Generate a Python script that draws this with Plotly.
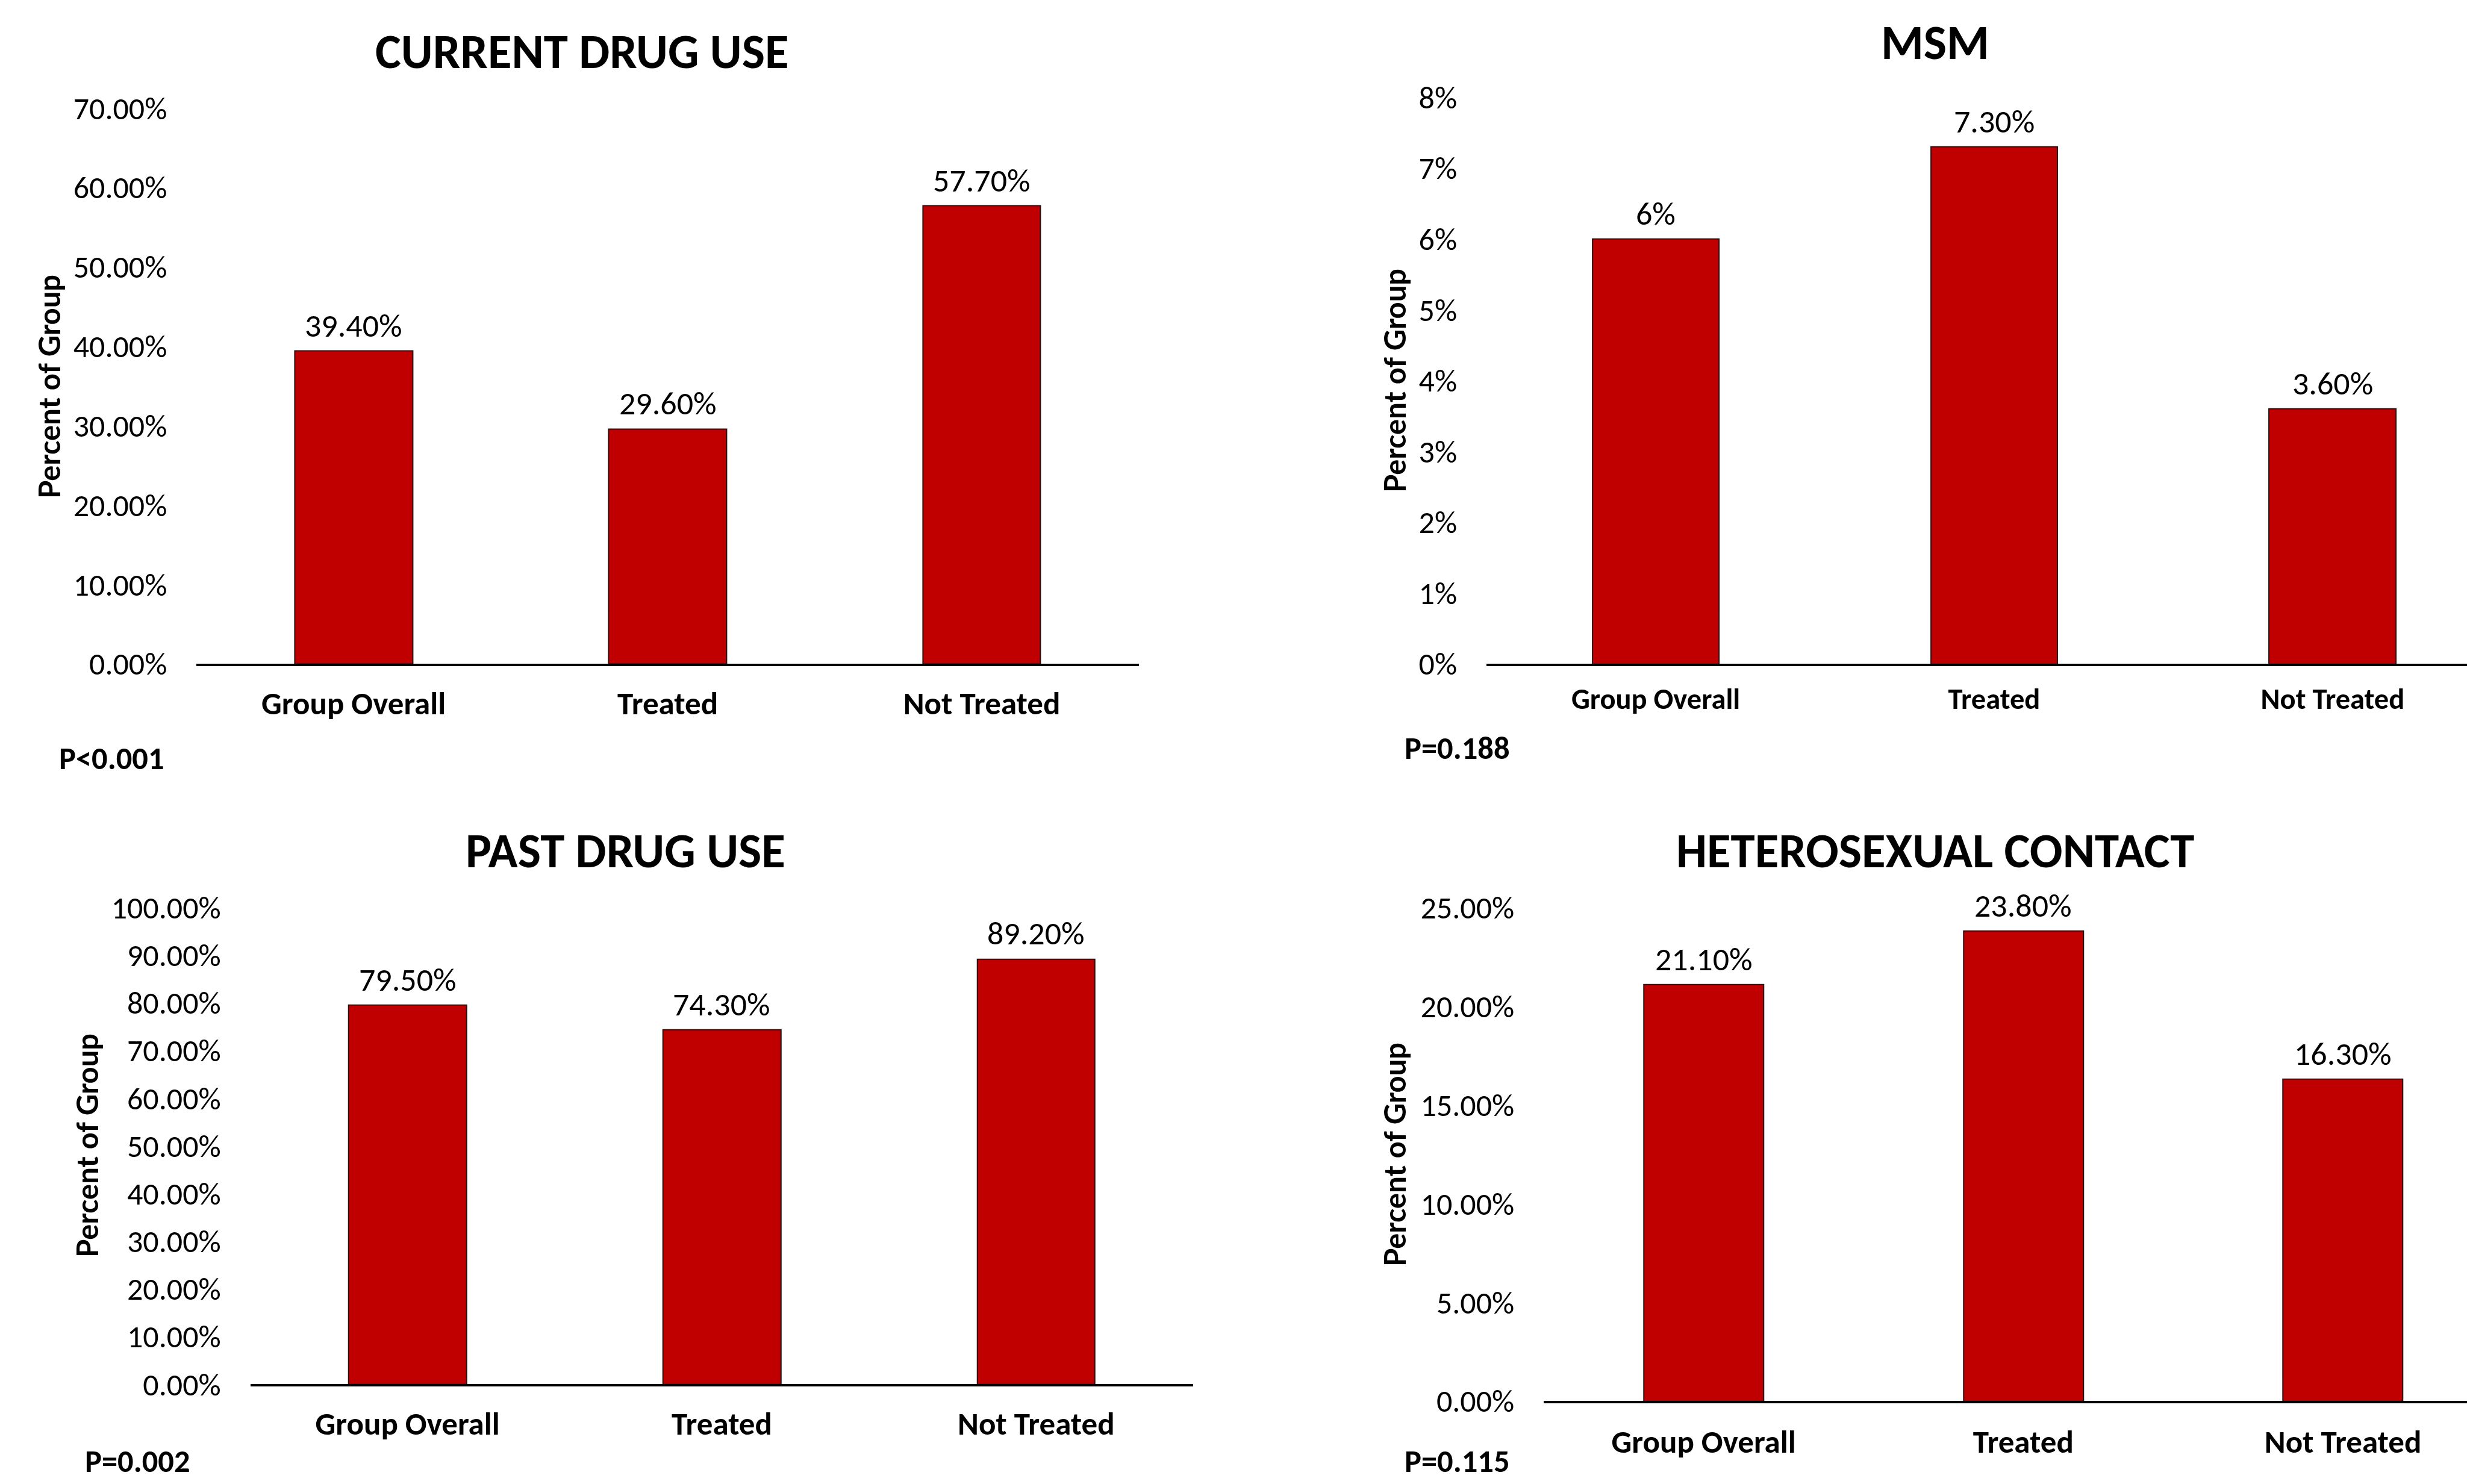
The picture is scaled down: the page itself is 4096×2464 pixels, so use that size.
import plotly.graph_objects as go

# ---- data -------------------------------------------------------------
categories = ["Group Overall", "Treated", "Not Treated"]

current_drug_use = [0.394, 0.296, 0.577]
current_labels = ["39.40%", "29.60%", "57.70%"]

msm = [0.06, 0.073, 0.036]
msm_labels = ["6%", "7.30%", "3.60%"]

past_drug_use = [0.795, 0.743, 0.892]
past_labels = ["79.50%", "74.30%", "89.20%"]

heterosexual_contact = [0.211, 0.238, 0.163]
hetero_labels = ["21.10%", "23.80%", "16.30%"]

titles = ["CURRENT DRUG USE", "MSM", "PAST DRUG USE", "HETEROSEXUAL CONTACT"]
p_values = ["P<0.001", "P=0.188", "P=0.002", "P=0.115"]
y_title = "Percent of Group"

# ---- styling ----------------------------------------------------------
W, H = 4096, 2464
FONT = "Carlito, Calibri, sans-serif"
BAR_RED = "#C00000"
TICK_SIZE = 52
VAL_SIZE = 54
TITLE_SIZE = 81
P_SIZE = 52.5

panels = [
    # values, labels, x domain, x range, y domain, y range, dtick, tickformat
    dict(vals=current_drug_use, labels=current_labels,
         xdom=[0.07969, 0.46162], xrng=[-0.5, 2.5],
         ydom=[0.5527, 0.9272], yrng=[0, 0.70], dtick=0.10, fmt=".2%",
         cat_gap=16, cat_size=53),
    dict(vals=msm, labels=msm_labels,
         xdom=[0.60256, 1.0], xrng=[-0.5, 2.397],
         ydom=[0.5527, 0.9344], yrng=[0, 0.08], dtick=0.01, fmt=".0%",
         cat_gap=13, cat_size=48.5),
    dict(vals=past_drug_use, labels=past_labels,
         xdom=[0.1015, 0.4837], xrng=[-0.5, 2.5],
         ydom=[0.0672, 0.3885], yrng=[0, 1.0], dtick=0.10, fmt=".2%",
         cat_gap=16, cat_size=53),
    dict(vals=heterosexual_contact, labels=hetero_labels,
         xdom=[0.62580, 1.0], xrng=[-0.5, 2.388],
         ydom=[0.0559, 0.3885], yrng=[0, 0.25], dtick=0.05, fmt=".2%",
         cat_gap=18, cat_size=53),
]

# title centre, y-title centre and p-value position (pixels)
title_pos = [(966, 86), (3213, 70), (1038, 1412), (3213, 1412)]
ytitle_pos = [(81, 642), (2315, 632), (144, 1902), (2315, 1917)]
p_pos = [(96, 1259), (2330, 1242), (139, 2426), (2330, 2426)]

fig = go.Figure()
layout = {}

for i, p in enumerate(panels):
    n = "" if i == 0 else str(i + 1)
    xa, ya = "x" + n, "y" + n
    fig.add_trace(go.Bar(
        x=categories, y=p["vals"], xaxis=xa, yaxis=ya, width=0.375,
        marker=dict(color=BAR_RED, line=dict(color="#2a1010", width=2)),
        showlegend=False, hoverinfo="skip",
    ))
    layout["xaxis" + n] = dict(
        domain=p["xdom"], range=p["xrng"], anchor=ya, type="category",
        showline=True, linecolor="black", linewidth=4, showgrid=False,
        zeroline=False, ticks="", ticklabelstandoff=p["cat_gap"], automargin=False,
        tickfont=dict(family=FONT, size=p["cat_size"], color="black", weight="bold"),
        fixedrange=True,
    )
    layout["yaxis" + n] = dict(
        domain=p["ydom"], range=p["yrng"], anchor=xa, dtick=p["dtick"],
        tick0=0, tickformat=p["fmt"], showline=False, showgrid=False,
        zeroline=False, ticks="", ticklabelstandoff=48, automargin=False,
        tickfont=dict(family=FONT, size=TICK_SIZE, color="black"),
        fixedrange=True,
    )
    # value labels above the bars
    for c, v, lab in zip(categories, p["vals"], p["labels"]):
        fig.add_annotation(x=c, y=v, xref=xa, yref=ya, text=lab, showarrow=False,
                           yanchor="middle", yshift=42,
                           font=dict(family=FONT, size=VAL_SIZE, color="black"))
    # panel title
    tx, ty = title_pos[i]
    fig.add_annotation(x=tx / W, y=1 - ty / H, xref="paper", yref="paper",
                       text=f"<b>{titles[i]}</b>", showarrow=False,
                       xanchor="center", yanchor="middle",
                       font=dict(family=FONT, size=TITLE_SIZE, color="black"))
    # rotated axis title
    yx, yy = ytitle_pos[i]
    fig.add_annotation(x=yx / W, y=1 - yy / H, xref="paper", yref="paper",
                       text=f"<b>{y_title}</b>", showarrow=False, textangle=-90,
                       xanchor="center", yanchor="middle",
                       font=dict(family="Lato, sans-serif", size=49, color="black"))
    # significance note
    px_, py_ = p_pos[i]
    fig.add_annotation(x=px_ / W, y=1 - py_ / H, xref="paper", yref="paper",
                       text=f"<b>{p_values[i]}</b>", showarrow=False,
                       xanchor="left", yanchor="middle",
                       font=dict(family=FONT, size=P_SIZE, color="black"))

fig.update_layout(
    width=W, height=H, margin=dict(l=0, r=0, t=0, b=0, pad=0, autoexpand=False),
    paper_bgcolor="white", plot_bgcolor="white", bargap=0,
    **layout,
)
fig.write_html("out.html", config={"displayModeBar": False})
